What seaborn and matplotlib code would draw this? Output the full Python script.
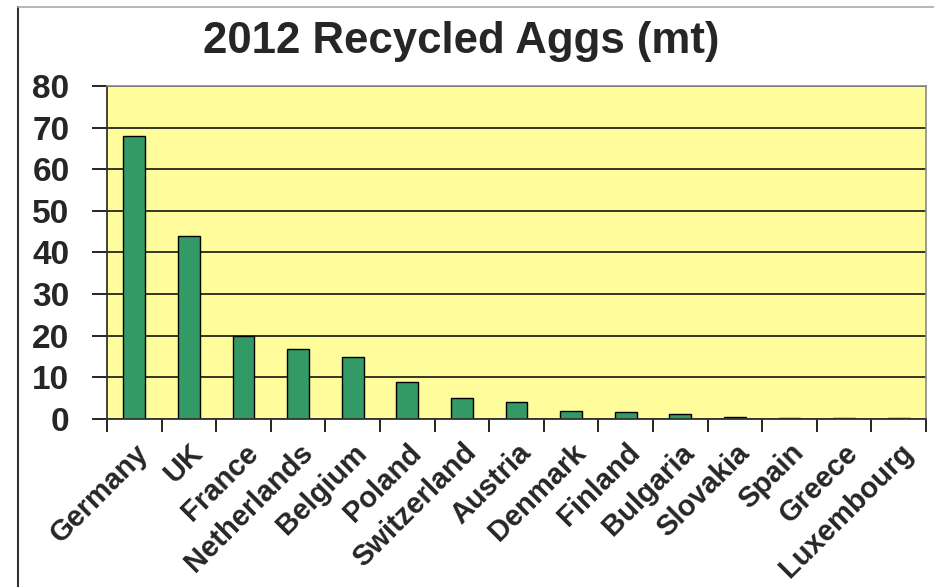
import matplotlib.pyplot as plt
import pandas as pd
import seaborn as sns
from matplotlib.lines import Line2D

countries = ["Germany", "UK", "France", "Netherlands", "Belgium", "Poland",
             "Switzerland", "Austria", "Denmark", "Finland", "Bulgaria",
             "Slovakia", "Spain", "Greece", "Luxembourg"]
recycled_mt = [68, 44, 20, 16.7, 14.8, 9.0, 5.0, 4.1, 2.0, 1.6, 1.3, 0.6, 0.3, 0.3, 0.3]
y_ticks = [0, 10, 20, 30, 40, 50, 60, 70, 80]

df = pd.DataFrame({"Country": countries, "Recycled": recycled_mt})

sns.set_style("white")
plt.rcParams['font.family'] = ['Liberation Sans', 'DejaVu Sans']
plt.rcParams['font.weight'] = 'bold'

fig = plt.figure(figsize=(9.34, 5.87), dpi=100)
ax = fig.add_axes([107 / 934, 1 - 419 / 587, 819 / 934, 333 / 587])
ax.set_facecolor("#FFFC9C")

sns.barplot(data=df, x="Country", y="Recycled", color="#339966",
            saturation=1, width=0.4, edgecolor="black", linewidth=1, ax=ax)

ax.set_ylim(0, 80)
ax.set_xlim(-0.5, len(countries) - 0.5)
ax.set_yticks(y_ticks)
ax.yaxis.grid(True, color="black", linewidth=1.1)
ax.set_axisbelow(True)
ax.set_xlabel("")
ax.set_ylabel("")

# category boundary ticks below the axis
ax.set_xticks([i - 0.5 for i in range(len(countries) + 1)], minor=True)
ax.tick_params(axis="x", which="minor", length=9, width=1.2, color="black", direction="out", bottom=True)
ax.tick_params(axis="x", which="major", length=0, pad=14)
ax.tick_params(axis="y", length=11, width=1.2, color="black", direction="out", left=True, labelsize=24, pad=16)
ax.set_xticks(range(len(countries)))
ax.set_xticklabels(countries, rotation=45, ha="right", rotation_mode="anchor",
                   fontsize=21, fontweight="bold")
for lbl in ax.get_yticklabels():
    lbl.set_fontweight("bold")

for side in ["left", "bottom"]:
    ax.spines[side].set_color("#333333")
    ax.spines[side].set_linewidth(1.3)
for side in ["top", "right"]:
    ax.spines[side].set_color("#8a8a8a")
    ax.spines[side].set_linewidth(1.2)

fig.text(461 / 934, 1 - 41 / 587, "2012 Recycled Aggs (mt)", ha="center", va="center",
         fontsize=31.5, fontweight="bold")

# outer chart frame
fig.add_artist(Line2D([18 / 934, 18 / 934], [0, 1 - 7 / 587], color="#333333", linewidth=1.5))
fig.add_artist(Line2D([18 / 934, 1], [1 - 7 / 587, 1 - 7 / 587], color="#aaaaaa", linewidth=1.2))

fig.savefig("out.png", dpi=100)
